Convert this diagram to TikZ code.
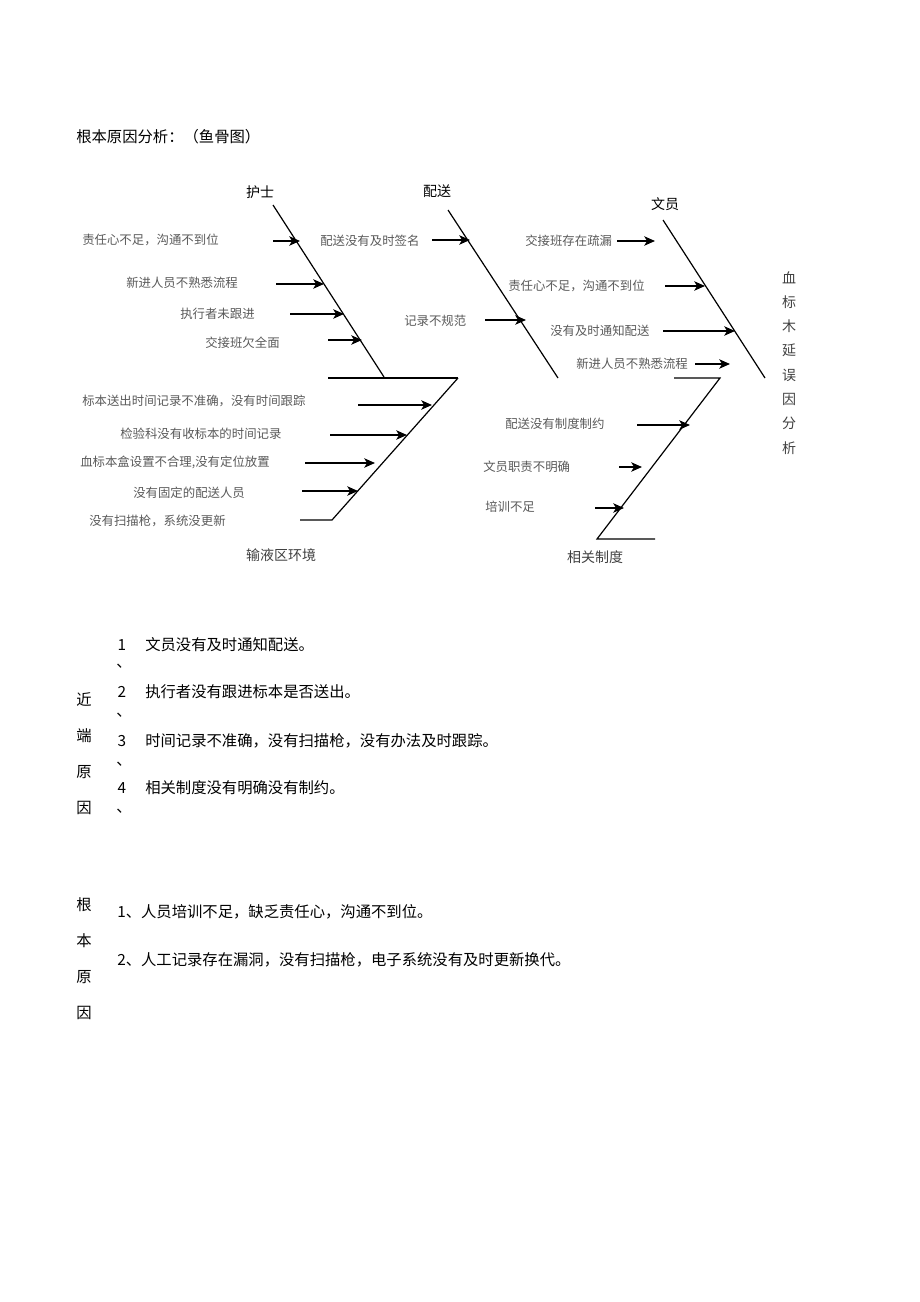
\documentclass[tikz,border=0pt]{standalone}
\usepackage{fontspec}
\setmainfont{Noto Sans CJK SC}
\usetikzlibrary{arrows.meta}
\begin{document}
\begin{tikzpicture}[x=0.75pt,y=-0.75pt,
  bone/.style={line width=0.9pt},
  arr/.style={line width=1.2pt,-{Stealth[length=8pt,width=7pt,inset=2pt]}},
  lab/.style={font=\fontsize{9.3}{10}\selectfont,text=black!65,inner sep=0pt},
  head/.style={font=\fontsize{10.5}{12}\selectfont,inner sep=0pt},
  body/.style={font=\fontsize{11.5}{13}\selectfont,inner sep=0pt,anchor=west}]
\useasboundingbox (0,0) rectangle (920,1302);
\node[body] (title) at (76,137) {根本原因分析：（鱼骨图）};
% heads
\node[head] (hs) at (260,192) {护士};
\node[head] (ps) at (437,191) {配送};
\node[head] (wy) at (665,204) {文员};
\node[head,text=black!75] (env) at (281,555) {输液区环境};
\node[head,text=black!75] (zd) at (595,557) {相关制度};
% bones
\coordinate (n1) at (273,205); \coordinate (n2) at (384,377);
\draw[bone] (n1) -- (n2);
\coordinate (h1) at (328,378); \coordinate (h2) at (458,378);
\draw[bone] (h1) -- (h2);
\coordinate (e2) at (332,520); \coordinate (e3) at (300,520);
\draw[bone] (h2) -- (e2) -- (e3);
\coordinate (d1) at (448,210); \coordinate (d2) at (558,378);
\draw[bone] (d1) -- (d2);
\coordinate (c1) at (663,220); \coordinate (c2) at (765,378);
\draw[bone] (c1) -- (c2);
\coordinate (r0) at (674,378); \coordinate (r1) at (720,378);
\coordinate (r2) at (597,539); \coordinate (r3) at (655,539);
\draw[bone] (r0) -- (r1) -- (r2) -- (r3);
% nurse arrows
\foreach \y/\a/\b in {241/273/300, 284/276/324, 314/290/344, 340/328/362, 405/358/432, 435/330/407, 463/305/375, 491/302/358}
  \draw[arr] (\a,\y) -- (\b,\y);
\node[lab,anchor=west] (a1) at (82,240) {责任心不足，沟通不到位};
\node[lab,anchor=west] (a2) at (126,283) {新进人员不熟悉流程};
\node[lab,anchor=west] (a3) at (180,314) {执行者未跟进};
\node[lab,anchor=west] (a4) at (205,343) {交接班欠全面};
\node[lab,anchor=west] (b1) at (82,401) {标本送出时间记录不准确，没有时间跟踪};
\node[lab,anchor=west] (b2) at (120,434) {检验科没有收标本的时间记录};
\node[lab,anchor=west] (b3) at (80,462) {血标本盒设置不合理,没有定位放置};
\node[lab,anchor=west] (b4) at (133,493) {没有固定的配送人员};
\node[lab,anchor=west] (b5) at (89,521) {没有扫描枪，系统没更新};
% delivery
\foreach \y/\a/\b in {240/432/470, 320/485/526}
  \draw[arr] (\a,\y) -- (\b,\y);
\node[lab,anchor=west] (p1) at (320,241) {配送没有及时签名};
\node[lab,anchor=west] (p2) at (404,321) {记录不规范};
% clerk
\foreach \y/\a/\b in {241/617/655, 286/665/705, 331/663/735, 364/695/730, 425/637/690, 467/619/642, 508/595/624}
  \draw[arr] (\a,\y) -- (\b,\y);
\node[lab,anchor=west] (w1) at (525,241) {交接班存在疏漏};
\node[lab,anchor=west] (w2) at (508,286) {责任心不足，沟通不到位};
\node[lab,anchor=west] (w3) at (550,331) {没有及时通知配送};
\node[lab,anchor=west] (w4) at (576,364) {新进人员不熟悉流程};
\node[lab,anchor=west] (z1) at (505,424) {配送没有制度制约};
\node[lab,anchor=west] (z2) at (483,467) {文员职责不明确};
\node[lab,anchor=west] (z3) at (485,507) {培训不足};
% vertical effect
\foreach \c [count=\i] in {血,标,木,延,误,因,分,析}
  \node[lab,text=black!75,font=\fontsize{10.5}{12}\selectfont] (v\i) at (789,253+\i*24.4) {\c};
% proximate causes
\foreach \c [count=\i] in {近,端,原,因}
  \node[body,anchor=center] (j\i) at (84,664+\i*36) {\c};
\node[body,anchor=center] (n1t) at (122,645) {1};
\node[body,anchor=center] (n2t) at (122,692) {2};
\node[body,anchor=center] (n3t) at (122,741) {3};
\node[body,anchor=center] (n4t) at (122,788) {4};
\foreach \y [count=\i] in {666,715,764,811}
  \node[body,anchor=center] (dn\i) at (124,\y) {、};
\node[body] (t1) at (145,645) {文员没有及时通知配送。};
\node[body] (t2) at (145,692) {执行者没有跟进标本是否送出。};
\node[body] (t3) at (145,741) {时间记录不准确，没有扫描枪，没有办法及时跟踪。};
\node[body] (t4) at (145,788) {相关制度没有明确没有制约。};
% root causes
\foreach \c [count=\i] in {根,本,原,因}
  \node[body,anchor=center] (g\i) at (84,869+\i*36) {\c};
\node[body] (r1t) at (117,912) {1、人员培训不足，缺乏责任心，沟通不到位。};
\node[body] (r2t) at (117,960) {2、人工记录存在漏洞，没有扫描枪，电子系统没有及时更新换代。};
\end{tikzpicture}
\end{document}
